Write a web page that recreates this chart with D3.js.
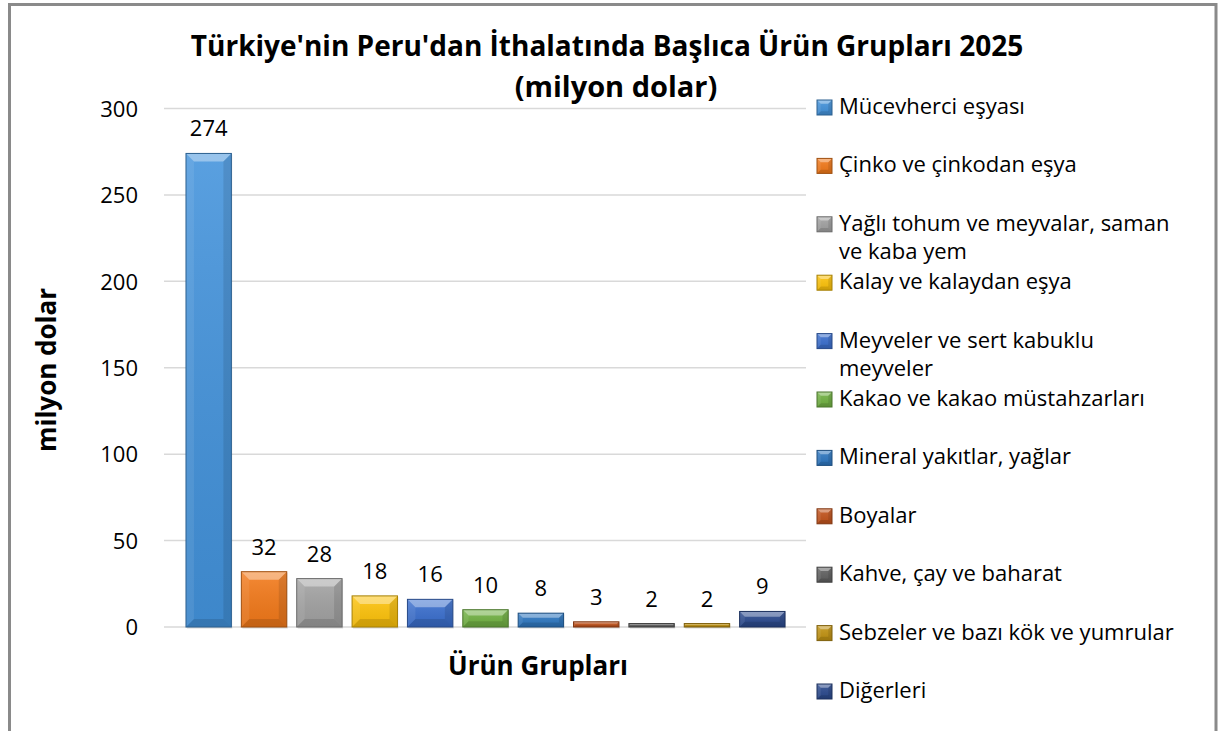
<!DOCTYPE html>
<html>
<head>
<meta charset="utf-8">
<script src="https://cdn.jsdelivr.net/npm/d3@7"></script>
<style>
  body { margin: 0; background: #fff; }
  svg { display: block; }
</style>
</head>
<body>
<svg id="chart" width="1219" height="731"></svg>
<script>
// product groups, values in million dollars
const categories = [
  "Mücevherci eşyası",
  "Çinko ve çinkodan eşya",
  "Yağlı tohum ve meyvalar, saman ve kaba yem",
  "Kalay ve kalaydan eşya",
  "Meyveler ve sert kabuklu meyveler",
  "Kakao ve kakao müstahzarları",
  "Mineral yakıtlar, yağlar",
  "Boyalar",
  "Kahve, çay ve baharat",
  "Sebzeler ve bazı kök ve yumrular",
  "Diğerleri"
];
const values = [274, 32, 28, 18, 16, 10, 8, 3, 2, 2, 9];
const legendLines = [
  ["Mücevherci eşyası"],
  ["Çinko ve çinkodan eşya"],
  ["Yağlı tohum ve meyvalar, saman", "ve kaba yem"],
  ["Kalay ve kalaydan eşya"],
  ["Meyveler ve sert kabuklu", "meyveler"],
  ["Kakao ve kakao müstahzarları"],
  ["Mineral yakıtlar, yağlar"],
  ["Boyalar"],
  ["Kahve, çay ve baharat"],
  ["Sebzeler ve bazı kök ve yumrular"],
  ["Diğerleri"]
];
const colors = ["#4393dc", "#f47a1a", "#a3a3a3", "#ffc40a", "#3a6fcf", "#72b343",
                "#2e78c2", "#c4541c", "#626262", "#c39412", "#2b4a8f"];
const yTicks = [0, 50, 100, 150, 200, 250, 300];

const font = "'Open Sans', 'Noto Sans', sans-serif";
const svg = d3.select("#chart");

// outer frame (bottom edge is cut off in the picture)
svg.append("path")
  .attr("d", "M9.5,731 V4.5 H1216 V731")
  .attr("fill", "none")
  .attr("stroke", "#8a8a8a")
  .attr("stroke-width", 3);

const y = d3.scaleLinear().domain([0, 300]).range([627, 108.5]);
const x = d3.scaleBand().domain(categories).range([181, 790])
  .paddingInner(0.18).paddingOuter(0.09);

// gridlines
svg.append("g").selectAll("line")
  .data(yTicks)
  .join("line")
  .attr("x1", 164).attr("x2", 806)
  .attr("y1", d => y(d)).attr("y2", d => y(d))
  .attr("stroke", "#d9d9d9")
  .attr("stroke-width", 1.5);

// y axis labels
const yAxis = svg.append("g")
  .attr("transform", "translate(151,0)")
  .call(d3.axisLeft(y).tickValues(yTicks).tickSize(0).tickPadding(13));
yAxis.select(".domain").remove();
yAxis.selectAll("text")
  .attr("font-family", font)
  .attr("font-size", 22)
  .attr("fill", "#000")
  .attr("dy", "0.35em");

// gradients for the bevel look
const defs = svg.append("defs");
const vg = defs.append("linearGradient").attr("id", "faceGrad")
  .attr("x1", 0).attr("y1", 0).attr("x2", 0).attr("y2", 1);
vg.append("stop").attr("offset", 0).attr("stop-color", "#fff").attr("stop-opacity", 0.12);
vg.append("stop").attr("offset", 1).attr("stop-color", "#000").attr("stop-opacity", 0.08);

function bevelBar(g, bx, by, w, h, color, maxB) {
  const b = Math.min(maxB, w / 4, h / 3);
  g.append("rect")
    .attr("x", bx).attr("y", by).attr("width", w).attr("height", h)
    .attr("fill", color);
  g.append("rect")
    .attr("x", bx).attr("y", by).attr("width", w).attr("height", h)
    .attr("fill", "url(#faceGrad)");
  const pts = [
    [[bx, by], [bx + w, by], [bx + w - b, by + b], [bx + b, by + b], "#fff", 0.38],
    [[bx, by], [bx + b, by + b], [bx + b, by + h - b], [bx, by + h], "#fff", 0.08],
    [[bx + w, by], [bx + w - b, by + b], [bx + w - b, by + h - b], [bx + w, by + h], "#000", 0.1],
    [[bx, by + h], [bx + b, by + h - b], [bx + w - b, by + h - b], [bx + w, by + h], "#000", 0.12]
  ];
  pts.forEach(p => {
    g.append("polygon")
      .attr("points", p.slice(0, 4).map(q => q.join(",")).join(" "))
      .attr("fill", p[4]).attr("fill-opacity", p[5]);
  });
  g.append("rect")
    .attr("x", bx).attr("y", by).attr("width", w).attr("height", h)
    .attr("fill", "none")
    .attr("stroke", d3.color(color).darker(1.2))
    .attr("stroke-width", 1);
}

// bars
const bars = svg.append("g");
categories.forEach((c, i) => {
  const g = bars.append("g");
  // soft shadow
  g.append("rect")
    .attr("x", x(c) + 1).attr("y", y(values[i]) + 1)
    .attr("width", x.bandwidth()).attr("height", y(0) - y(values[i]) + 1)
    .attr("fill", "#000").attr("fill-opacity", 0.08);
  bevelBar(g, x(c), y(values[i]), x.bandwidth(), y(0) - y(values[i]), colors[i], 8);
});

// value labels
svg.append("g").selectAll("text")
  .data(values)
  .join("text")
  .attr("x", (d, i) => x(categories[i]) + x.bandwidth() / 2)
  .attr("y", d => y(d) - 17)
  .attr("text-anchor", "middle")
  .attr("font-family", font)
  .attr("font-size", 22)
  .text(d => d);

// titles
const title = svg.append("text")
  .attr("text-anchor", "middle")
  .attr("font-family", font)
  .attr("font-weight", "bold")
  .attr("font-size", 28);
title.append("tspan").attr("x", 607).attr("y", 56)
  .text("Türkiye'nin Peru'dan İthalatında Başlıca Ürün Grupları 2025");
title.append("tspan").attr("x", 616).attr("y", 97)
  .attr("font-size", 29)
  .text("(milyon dolar)");

svg.append("text")
  .attr("transform", "translate(56,370) rotate(-90)")
  .attr("text-anchor", "middle")
  .attr("font-family", font)
  .attr("font-weight", "bold")
  .attr("font-size", 26)
  .text("milyon dolar");

svg.append("text")
  .attr("x", 538).attr("y", 675)
  .attr("text-anchor", "middle")
  .attr("font-family", font)
  .attr("font-weight", "bold")
  .attr("font-size", 26)
  .text("Ürün Grupları");

// legend
const legend = svg.append("g");
legendLines.forEach((lines, i) => {
  const base = 114 + i * 58.4;
  const g = legend.append("g");
  bevelBar(g, 817, base - 14, 15, 15, colors[i], 4);
  const t = g.append("text")
    .attr("font-family", font)
    .attr("font-size", 22);
  lines.forEach((ln, j) => {
    t.append("tspan").attr("x", 839).attr("y", base + j * 28).text(ln);
  });
});
</script>
</body>
</html>
